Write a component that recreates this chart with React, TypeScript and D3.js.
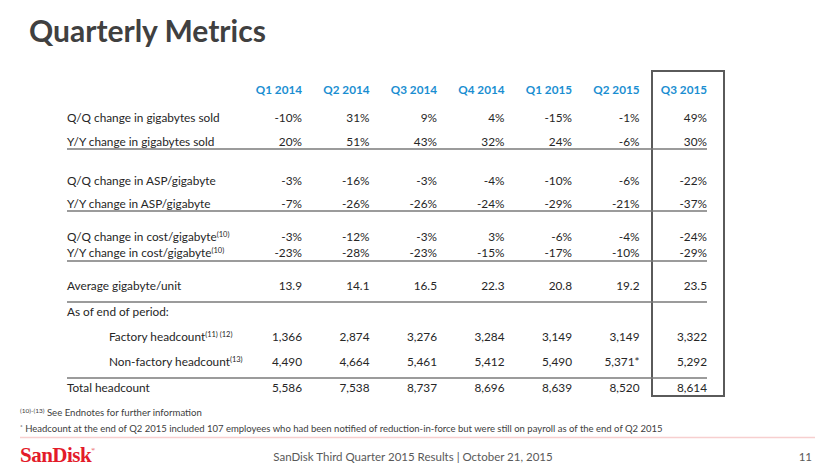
import React from "react";
import * as d3 from "d3";

const quarters = ["Q1 2014", "Q2 2014", "Q3 2014", "Q4 2014", "Q1 2015", "Q2 2015", "Q3 2015"];

const rowLabels = [
  "Q/Q change in gigabytes sold",
  "Y/Y change in gigabytes sold",
  "Q/Q change in ASP/gigabyte",
  "Y/Y change in ASP/gigabyte",
  "Q/Q change in cost/gigabyte",
  "Y/Y change in cost/gigabyte",
  "Average gigabyte/unit",
  "As of end of period:",
  "Factory headcount",
  "Non-factory headcount",
  "Total headcount",
];
const rowSup = ["", "", "", "", "(10)", "(10)", "", "", "(11) (12)", "(13)", ""];
const rowIndent = [0, 0, 0, 0, 0, 0, 0, 0, 1, 1, 0];

const qqGbSold = ["-10%", "31%", "9%", "4%", "-15%", "-1%", "49%"];
const yyGbSold = ["20%", "51%", "43%", "32%", "24%", "-6%", "30%"];
const qqAsp = ["-3%", "-16%", "-3%", "-4%", "-10%", "-6%", "-22%"];
const yyAsp = ["-7%", "-26%", "-26%", "-24%", "-29%", "-21%", "-37%"];
const qqCost = ["-3%", "-12%", "-3%", "3%", "-6%", "-4%", "-24%"];
const yyCost = ["-23%", "-28%", "-23%", "-15%", "-17%", "-10%", "-29%"];
const avgGbUnit = ["13.9", "14.1", "16.5", "22.3", "20.8", "19.2", "23.5"];
const asOfEnd: string[] = [];
const factoryHeadcount = ["1,366", "2,874", "3,276", "3,284", "3,149", "3,149", "3,322"];
const nonFactoryHeadcount = ["4,490", "4,664", "5,461", "5,412", "5,490", "5,371*", "5,292"];
const totalHeadcount = ["5,586", "7,538", "8,737", "8,696", "8,639", "8,520", "8,614"];

const rowValues = [
  qqGbSold, yyGbSold, qqAsp, yyAsp, qqCost, yyCost, avgGbUnit,
  asOfEnd, factoryHeadcount, nonFactoryHeadcount, totalHeadcount,
];

const FONT = "Lato, 'Open Sans', sans-serif";

export default function App() {
  const x = d3.scalePoint<string>().domain(quarters).range([302, 707]);
  const rowY = [118, 142, 181, 204, 237, 253, 286, 312, 337, 362, 388];
  const lineYs = [149, 211, 261, 302, 378];
  const lx0 = 67;
  const lx1 = 707;
  const textColor = "#262626";
  return (
    <svg
      width={830}
      height={467}
      style={{ position: "absolute", left: 0, top: 0, background: "#fff" }}
      fontFamily={FONT}
    >
      <rect x={0} y={0} width={830} height={467} fill="#fff" />
      <text x={29} y={42} fontSize={30} fontWeight={700} fill="#404040">
        Quarterly Metrics
      </text>

      {/* highlight box */}
      <rect x={652} y={71} width={72} height={325} fill="none" stroke="#5a5a5a" strokeWidth={2} />

      {quarters.map((q) => (
        <text key={q} x={x(q)} y={94} textAnchor="end" fontSize={11.7} fontWeight={700} fill="#1a8ed1">
          {q}
        </text>
      ))}

      {rowLabels.map((lab, i) => (
        <g key={lab}>
          <text x={lx0 + rowIndent[i] * 42} y={rowY[i] + 4} fontSize={11.8} fill={textColor}>
            {lab}
            {rowSup[i] && (
              <tspan fontSize={7.5} dy={-4}>
                {rowSup[i]}
              </tspan>
            )}
          </text>
          {rowValues[i].map((v, j) => (
            <text key={j} x={x(quarters[j])} y={rowY[i] + 4} textAnchor="end" fontSize={11.8} fill={textColor}>
              {v}
            </text>
          ))}
        </g>
      ))}

      {lineYs.map((y) => (
        <line key={y} x1={lx0} x2={lx1} y1={y} y2={y} stroke="#7a7a7a" strokeWidth={1.5} />
      ))}

      {/* footnotes */}
      <text x={20} y={416} fontSize={9.6} fill="#404040">
        <tspan fontSize={6.5} dy={-3}>(10)-(13)</tspan>
        <tspan dy={3}> See Endnotes for further information</tspan>
      </text>
      <text x={20} y={432} fontSize={9.5} fill="#404040">
        <tspan fontSize={6.5} dy={-3}>*</tspan>
        <tspan dy={3}> Headcount at the end of Q2 2015 included 107 employees who had been notified of reduction-in-force but were still on payroll as of the end of Q2 2015</tspan>
      </text>
      <line x1={20} x2={815} y1={437.5} y2={437.5} stroke="#f7cfcf" strokeWidth={1.5} />

      {/* footer */}
      <text x={20} y={462} fontSize={21} fontWeight={700} fill="#e31b2a" fontFamily="'Liberation Serif', serif" letterSpacing={-0.5}>
        SanDisk
        <tspan fontSize={5} dy={-11}>®</tspan>
      </text>
      <text x={413} y={461} textAnchor="middle" fontSize={11.5} fill="#595959">
        SanDisk Third Quarter 2015 Results | October 21, 2015
      </text>
      <text x={812} y={461} textAnchor="end" fontSize={11.5} fill="#595959">
        11
      </text>
    </svg>
  );
}
